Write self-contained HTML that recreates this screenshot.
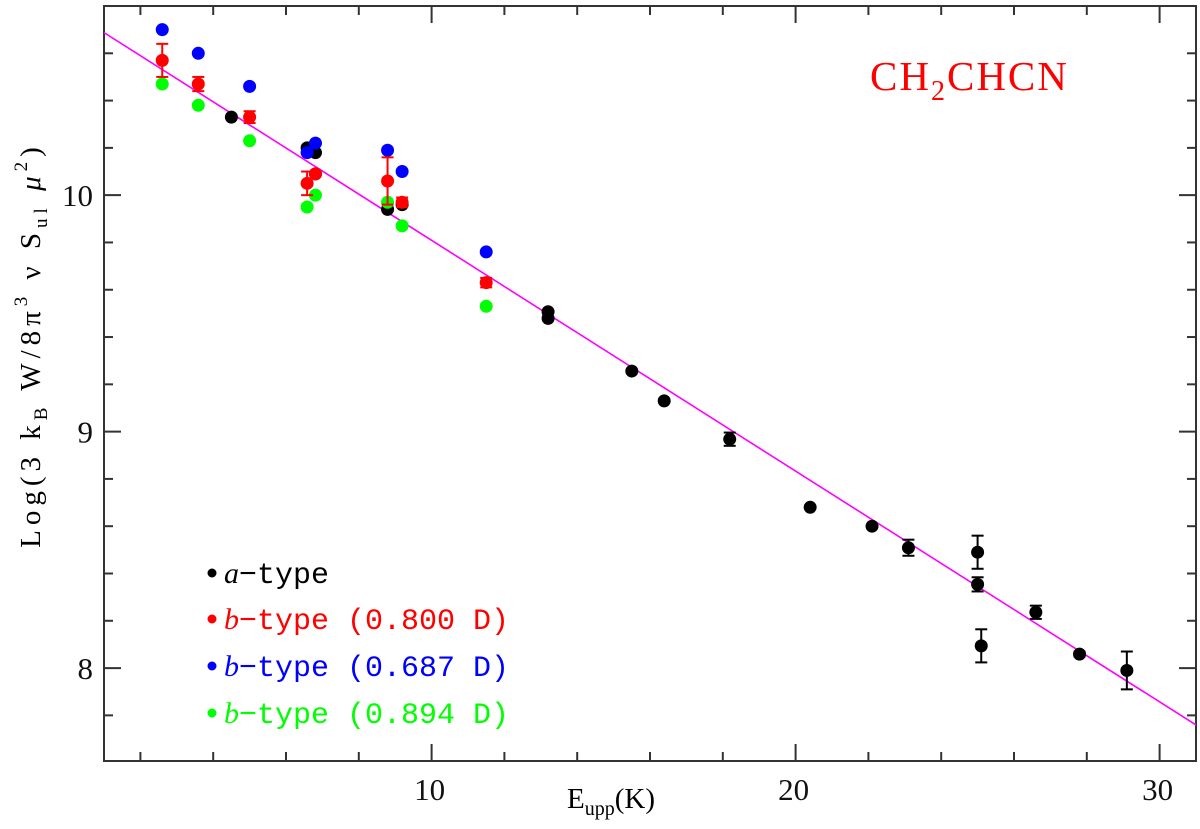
<!DOCTYPE html>
<html><head><meta charset="utf-8"><style>
html,body{margin:0;padding:0;background:#fff}
svg{display:block}
text{font-family:"Liberation Serif",serif}
.mono{font-family:"Liberation Mono",monospace}
</style></head><body>
<svg id="chart" width="1200" height="829" viewBox="0 0 1200 829">
<g id="axes"></g>
<g id="fit"></g>
<g id="marks"></g>
<text x="870" y="90" font-size="41" letter-spacing="2" fill="#ff0000">CH<tspan font-size="28" dy="10">2</tspan><tspan dy="-10">CHCN</tspan></text>
<text transform="translate(40,345) rotate(-90)" text-anchor="middle" font-size="29" fill="#000" letter-spacing="5">Log(3 k<tspan font-size="19" dy="7">B</tspan><tspan dy="-7"> W/8π</tspan><tspan font-size="19" dy="-13">3</tspan><tspan dy="13"> ν S</tspan><tspan font-size="19" dy="7">ul</tspan><tspan dy="-7"> </tspan><tspan font-style="italic">μ</tspan><tspan font-size="19" dy="-13">2</tspan><tspan dy="13">)</tspan></text>
<text x="567" y="808" font-size="29">E<tspan font-size="20" dy="7">upp</tspan><tspan dy="-7">(K)</tspan></text>
<g id="legend" class="mono" font-size="30">
<g><circle cx="212" cy="573" r="4.5" fill="#000"/><text x="224" y="583" class="mono" fill="#000"><tspan font-style="italic" font-family="Liberation Serif">a</tspan>−type</text></g>
<g><circle cx="212" cy="619" r="4.5" fill="#ff0000"/><text x="224" y="629" class="mono" fill="#ff0000"><tspan font-style="italic" font-family="Liberation Serif">b</tspan>−type (0.800 D)</text></g>
<g><circle cx="212" cy="666" r="4.5" fill="#0000ff"/><text x="224" y="676" class="mono" fill="#0000ff"><tspan font-style="italic" font-family="Liberation Serif">b</tspan>−type (0.687 D)</text></g>
<g><circle cx="212" cy="713" r="4.5" fill="#00ff00"/><text x="224" y="723" class="mono" fill="#00ff00"><tspan font-style="italic" font-family="Liberation Serif">b</tspan>−type (0.894 D)</text></g>
</g>
</svg>
<script>
const xTicks = [10, 20, 30];
const yTicks = [8, 9, 10];
const aE = [4.5, 6.58, 6.81, 6.81, 8.79, 9.19, 13.2, 13.2, 15.5, 16.39, 18.19, 20.4, 22.1, 23.1, 25.0, 25.0, 25.1, 26.6, 27.8, 29.1];
const aL = [10.33, 10.20, 10.18, 10.09, 9.94, 9.96, 9.507, 9.479, 9.256, 9.13, 8.968, 8.68, 8.60, 8.509, 8.49, 8.354, 8.094, 8.236, 8.059, 7.99];
const aErr = [0, 0, 0, 0, 0, 0, 0, 0, 0, 0, 0.028, 0, 0, 0.034, 0.07, 0.03, 0.07, 0.028, 0.01, 0.08];
const bE = [2.6, 3.59, 5.0, 6.58, 6.81, 8.79, 9.19, 11.5];
const redL = [10.57, 10.47, 10.33, 10.05, 10.09, 10.06, 9.97, 9.63];
const redErr = [0.07, 0.03, 0.025, 0.05, 0.01, 0.1, 0.02, 0.02];
const blueL = [10.70, 10.60, 10.46, 10.18, 10.22, 10.19, 10.10, 9.76];
const greenL = [10.47, 10.38, 10.23, 9.95, 10.0, 9.97, 9.87, 9.53];
const fitIntercept = 10.785;
const fitSlope = -0.0976;

const NS = 'http://www.w3.org/2000/svg';
const X0 = 104, X1 = 1196, Y0 = 6, Y1 = 761;
const xmin = 1, xmax = 31, ymin = 7.607, ymax = 10.8;
function sx(v){ return X0 + (v - xmin) / (xmax - xmin) * (X1 - X0); }
function sy(v){ return Y1 - (v - ymin) / (ymax - ymin) * (Y1 - Y0); }
function mk(tag, attrs, parent){ const e = document.createElementNS(NS, tag); for (const k in attrs) e.setAttribute(k, attrs[k]); parent.appendChild(e); return e; }

const axes = document.getElementById('axes');
const frame = mk('rect', {x:X0, y:Y0, width:X1-X0, height:Y1-Y0, fill:'none', stroke:'#333', 'stroke-width':2}, axes);


for (let v = 2; v <= 30; v += 2) {
  const major = v % 10 === 0, len = major ? 17 : 9, x = sx(v);
  const t1 = mk('line', {x1:x, x2:x, y1:Y1, y2:Y1-len, stroke:'#333', 'stroke-width':2}, axes);
  
  
  const t2 = mk('line', {x1:x, x2:x, y1:Y0, y2:Y0+len, stroke:'#333', 'stroke-width':2}, axes);
  
  
}
for (let i = 0; ; i++) {
  const v = 7.8 + i * 0.2; if (v > ymax) break;
  const major = Math.abs(v - Math.round(v)) < 0.01, len = major ? 17 : 9, y = sy(v);
  const t1 = mk('line', {x1:X0, x2:X0+len, y1:y, y2:y, stroke:'#333', 'stroke-width':2}, axes);
  
  
  const t2 = mk('line', {x1:X1, x2:X1-len, y1:y, y2:y, stroke:'#333', 'stroke-width':2}, axes);
  
  
}
xTicks.forEach(v => {
  const t = mk('text', {x:sx(v)-2, y:800, 'text-anchor':'middle', 'font-size':31, fill:'#111'}, axes);
  t.textContent = v;
  
  
});
yTicks.forEach(v => {
  const t = mk('text', {x:93, y:sy(v)+11, 'text-anchor':'end', 'font-size':31, fill:'#111'}, axes);
  t.textContent = v;
  
  
});

const fit = document.getElementById('fit');
const fl = mk('line', {x1:sx(xmin), y1:sy(fitIntercept + fitSlope*xmin), x2:sx(xmax), y2:sy(fitIntercept + fitSlope*xmax), stroke:'#ff00ff', 'stroke-width':1.6}, fit);



const marks = document.getElementById('marks');
function errbar(x, l, e, col){
  if (!e) return;
  const g = mk('g', {stroke:col, 'stroke-width':2}, marks);
  
  
  const px = sx(x), a = sy(l+e), b = sy(l-e);
  mk('line', {x1:px, x2:px, y1:a, y2:b}, g);
  mk('line', {x1:px-6, x2:px+6, y1:a, y2:a}, g);
  mk('line', {x1:px-6, x2:px+6, y1:b, y2:b}, g);
}
function dot(x, l, col, name){
  const c = mk('circle', {cx:sx(x), cy:sy(l), r:6.5, fill:col}, marks);
  
  
}
aE.forEach((e, i) => { errbar(e, aL[i], aErr[i], '#000'); dot(e, aL[i], '#000', 'point-a-type'); });
bE.forEach((e, i) => dot(e, blueL[i], '#0000ff', 'point-b-type-0687'));
bE.forEach((e, i) => dot(e, greenL[i], '#00ff00', 'point-b-type-0894'));
bE.forEach((e, i) => { errbar(e, redL[i], redErr[i], '#ff0000'); dot(e, redL[i], '#ff0000', 'point-b-type-0800'); });
</script>
</body></html>
